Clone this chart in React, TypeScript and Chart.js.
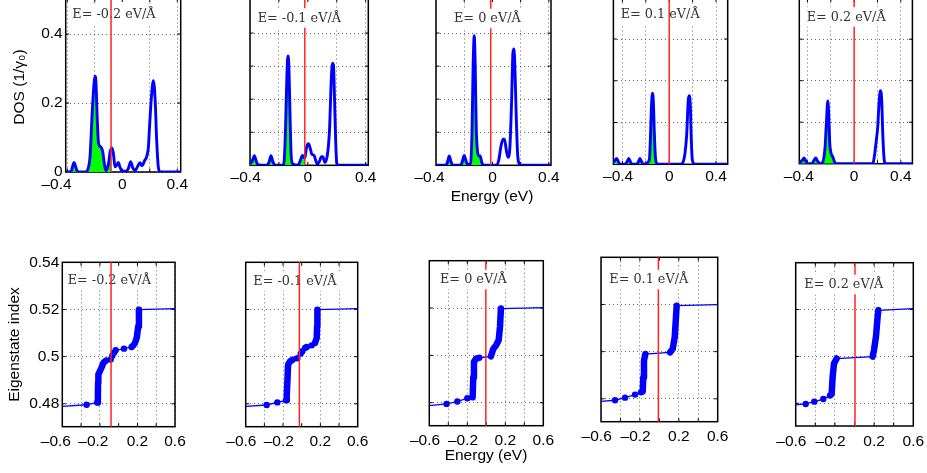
import React, { useEffect, useRef } from "react";
import { Chart, registerables } from "chart.js";

Chart.register(...registerables);

// ---------------- data ----------------
const fieldLabels = ["E= -0.2 eV/Å", "E= -0.1 eV/Å", "E= 0 eV/Å", "E= 0.1 eV/Å", "E= 0.2 eV/Å"];
const fermiTop = [-0.082, -0.021, -0.012, 0, 0];
const fermiBottom = [-0.081, -0.025, -0.005, -0.01, 0.005];

// DOS (top row): energy (eV) and DOS (1/gamma0)
const dosEnergyM02 = [-0.412, -0.372, -0.362, -0.351, -0.34, -0.328, -0.3, -0.262, -0.254, -0.235, -0.218, -0.205, -0.199, -0.192, -0.183, -0.173, -0.155, -0.143, -0.131, -0.119, -0.1, -0.088, -0.082, -0.075, -0.065, -0.053, -0.04, -0.029, -0.018, -0.005, 0.027, 0.045, 0.061, 0.077, 0.093, 0.11, 0.129, 0.14, 0.148, 0.162, 0.177, 0.19, 0.198, 0.212, 0.226, 0.239, 0.25, 0.262, 0.275, 0.425];
const dosValueM02 = [0, 0.002, 0.016, 0.028, 0.016, 0.002, 0, 0, 0.004, 0.044, 0.18, 0.26, 0.278, 0.262, 0.16, 0.083, 0.072, 0.059, 0.025, 0.004, 0.025, 0.06, 0.066, 0.07, 0.054, 0.015, 0.02, 0.028, 0.015, 0.004, 0.002, 0.011, 0.03, 0.011, 0.004, 0.015, 0.027, 0.019, 0.02, 0.033, 0.044, 0.073, 0.13, 0.218, 0.265, 0.209, 0.093, 0.015, 0, 0];

const dosEnergyM01 = [-0.398, -0.38, -0.37, -0.358, -0.345, -0.283, -0.267, -0.255, -0.242, -0.225, -0.172, -0.163, -0.154, -0.145, -0.138, -0.131, -0.124, -0.117, -0.108, -0.07, -0.055, -0.037, -0.021, -0.01, 0.004, 0.016, 0.027, 0.043, 0.055, 0.066, 0.08, 0.094, 0.103, 0.119, 0.133, 0.142, 0.151, 0.16, 0.17, 0.177, 0.184, 0.193, 0.2, 0.21, 0.418];
const dosValueM01 = [0.004, 0.018, 0.029, 0.014, 0.002, 0, 0.011, 0.029, 0.011, 0, 0, 0.016, 0.117, 0.269, 0.331, 0.299, 0.168, 0.046, 0.006, 0, 0.011, 0.03, 0.022, 0.052, 0.065, 0.052, 0.034, 0.03, 0.014, 0.004, 0.011, 0.026, 0.026, 0.009, 0.026, 0.057, 0.117, 0.238, 0.309, 0.304, 0.208, 0.067, 0.006, 0, 0];

const dosEnergyZ0 = [-0.4, -0.33, -0.318, -0.306, -0.294, -0.278, -0.225, -0.212, -0.2, -0.188, -0.175, -0.155, -0.145, -0.137, -0.129, -0.122, -0.115, -0.108, -0.097, -0.087, -0.075, -0.06, -0.012, 0.03, 0.045, 0.06, 0.075, 0.085, 0.1, 0.112, 0.124, 0.136, 0.145, 0.152, 0.159, 0.168, 0.178, 0.19, 0.2, 0.415];
const dosValueZ0 = [0, 0, 0.011, 0.028, 0.011, 0, 0, 0.014, 0.03, 0.014, 0.002, 0.006, 0.097, 0.299, 0.392, 0.299, 0.117, 0.052, 0.028, 0.028, 0.008, 0, 0, 0, 0.016, 0.057, 0.079, 0.079, 0.041, 0.024, 0.057, 0.198, 0.339, 0.352, 0.299, 0.158, 0.036, 0.004, 0, 0];

const dosEnergyP01 = [-0.477, -0.462, -0.449, -0.435, -0.421, -0.378, -0.36, -0.346, -0.332, -0.315, -0.28, -0.263, -0.25, -0.236, -0.214, -0.17, -0.161, -0.153, -0.144, -0.136, -0.127, -0.118, -0.105, -0.09, 0, 0.1, 0.12, 0.135, 0.15, 0.163, 0.172, 0.181, 0.189, 0.198, 0.21, 0.23, 0.5];
const dosValueP01 = [0.004, 0.01, 0.014, 0.006, 0, 0, 0.006, 0.014, 0.006, 0, 0, 0.006, 0.014, 0.006, 0, 0.01, 0.058, 0.13, 0.17, 0.154, 0.074, 0.018, 0.002, 0, 0, 0, 0.006, 0.026, 0.074, 0.154, 0.164, 0.138, 0.058, 0.01, 0.002, 0, 0];

const dosEnergyP02 = [-0.47, -0.442, -0.429, -0.415, -0.4, -0.363, -0.343, -0.329, -0.315, -0.29, -0.269, -0.258, -0.249, -0.238, -0.226, -0.218, -0.209, -0.198, -0.184, -0.17, -0.158, 0, 0.16, 0.173, 0.19, 0.202, 0.213, 0.225, 0.236, 0.245, 0.256, 0.265, 0.5];
const dosValueP02 = [0.002, 0.009, 0.014, 0.007, 0, 0, 0.009, 0.014, 0.007, 0, 0.004, 0.017, 0.041, 0.097, 0.151, 0.121, 0.049, 0.025, 0.017, 0.006, 0, 0, 0, 0.017, 0.057, 0.089, 0.145, 0.176, 0.153, 0.073, 0.013, 0, 0];

// Eigenstate index (bottom row): index at E=-0.6 / 0.6, isolated states, dense bands
const idxEdgeM02 = [0.4789, 0.5204];
const dotEM02 = [-0.341, -0.227, -0.085, -0.068, -0.05, -0.032, 0.057, 0.138, 0.156];
const dotIdxM02 = [0.4796, 0.4806, 0.4988, 0.5004, 0.5016, 0.5027, 0.5034, 0.5041, 0.5048];
const bandAEM02 = [-0.224, -0.221, -0.219, -0.216, -0.2, -0.181, -0.16, -0.135];
const bandAIdxM02 = [0.4806, 0.484, 0.489, 0.4925, 0.4938, 0.4955, 0.4975, 0.4983];
const bandBEM02 = [0.174, 0.192, 0.209, 0.216];
const bandBIdxM02 = [0.5058, 0.5079, 0.5129, 0.5199];

const idxEdgeM01 = [0.4789, 0.5204];
const dotEM01 = [-0.375, -0.261, -0.046, -0.011, 0.007, 0.036, 0.054, 0.107];
const dotIdxM01 = [0.4795, 0.4806, 0.4993, 0.5013, 0.5023, 0.5037, 0.5041, 0.5048];
const bandAEM01 = [-0.168, -0.16, -0.154, -0.146, -0.125, -0.096];
const bandAIdxM01 = [0.4815, 0.484, 0.4888, 0.4966, 0.498, 0.4987];
const bandBEM01 = [0.143, 0.161, 0.165, 0.168];
const bandBIdxM01 = [0.5058, 0.5079, 0.513, 0.5199];

const idxEdgeZ0 = [0.4788, 0.5202];
const dotEZ0 = [-0.418, -0.305, -0.2];
const dotIdxZ0 = [0.4795, 0.4805, 0.4819];
const bandAEZ0 = [-0.144, -0.137, -0.13, -0.109, -0.074];
const bandAIdxZ0 = [0.4823, 0.4908, 0.4972, 0.4986, 0.499];
const bandBEZ0 = [0.049, 0.074, 0.102, 0.13, 0.144, 0.154];
const bandBIdxZ0 = [0.4996, 0.5028, 0.5042, 0.5064, 0.512, 0.5198];

const idxEdgeP01 = [0.4789, 0.5199];
const dotEP01 = [-0.456, -0.353, -0.25, -0.189];
const dotIdxP01 = [0.4794, 0.4805, 0.4818, 0.4828];
const bandAEP01 = [-0.171, -0.165, -0.158, -0.144];
const bandAIdxP01 = [0.4832, 0.4891, 0.4962, 0.499];
const bandBEP01 = [0.11, 0.137, 0.158, 0.171, 0.178];
const bandBIdxP01 = [0.4997, 0.5011, 0.5061, 0.5146, 0.5195];

const idxEdgeP02 = [0.4793, 0.5204];
const dotEP02 = [-0.498, -0.41, -0.318, -0.25];
const dotIdxP02 = [0.4797, 0.4807, 0.4818, 0.4833];
const bandAEP02 = [-0.233, -0.223, -0.209, -0.182];
const bandAIdxP02 = [0.484, 0.4913, 0.497, 0.4991];
const bandBEP02 = [0.185, 0.199, 0.219, 0.236, 0.243];
const bandBIdxP02 = [0.4999, 0.5027, 0.5084, 0.5169, 0.5197];

// ticks
const xTicksTop = [-0.4, -0.2, 0, 0.2, 0.4];
const xTickLabelsTop = ["–0.4", "", "0", "", "0.4"];
const yTicksDosLabeled = [0, 0.2, 0.4];
const yTickLabelsDos = ["0", "0.2", "0.4"];
const yTicksDosGrid = [0, 0.1, 0.2, 0.3, 0.4];
const xTicksBottom = [-0.6, -0.4, -0.2, 0, 0.2, 0.4, 0.6];
const xTickLabelsBottom = ["–0.6", "", "–0.2", "", "0.2", "", "0.6"];
const yTicksIndex = [0.48, 0.5, 0.52, 0.54];
const yTickLabelsIndex = ["0.48", "0.5", "0.52", "0.54"];

// ---------------- styling ----------------
const SANS = '"Liberation Sans", Arial, sans-serif';
const BLUE = "#0000ff";
const GRID = "rgba(40,40,40,0.7)";

const toPts = (xs: number[], ys: number[]) => xs.map((x, i) => ({ x, y: ys[i] }));

type Panel = {
  kind: "dos" | "idx";
  i: number;
  cl: number; ct: number; cw: number; ch: number;
  l: number; r: number; t: number; b: number;
  xMin: number; xMax: number; yMin: number; yMax: number;
  yLabels: boolean;
  negPad: number;
  lx: number; ly: number;
  redOver: boolean;
  xPad: number;
  titles: { text: string; x: number; y: number; rot?: boolean }[];
  E?: number[]; V?: number[];
  edge?: number[]; dotE?: number[]; dotI?: number[];
  aE?: number[]; aI?: number[]; bE?: number[]; bI?: number[];
};

const TOP_CT = -2, TOP_CH = 212;
const BOT_CT = 240, BOT_CH = 233;

const panels: Panel[] = [
  { kind: "dos", i: 0, cl: 0, ct: TOP_CT, cw: 205, ch: TOP_CH, l: 65.7, r: 180.7, t: -1.5, b: 172, xMin: -0.412, xMax: 0.425, yMin: 0, yMax: 0.503, yLabels: true, negPad: 5, lx: 72.3, ly: 18.3, redOver: true, xPad: 3.5, titles: [{ text: "DOS (1/γ₀)", x: 20, y: 87, rot: true }], E: dosEnergyM02, V: dosValueM02 },
  { kind: "dos", i: 1, cl: 205, ct: TOP_CT, cw: 190, ch: TOP_CH, l: 250, r: 368.3, t: -1.5, b: 165.3, xMin: -0.4, xMax: 0.418, yMin: 0, yMax: 0.5045, yLabels: false, negPad: 2, lx: 257.7, ly: 21.7, redOver: false, xPad: 3.5, titles: [], E: dosEnergyM01, V: dosValueM01 },
  { kind: "dos", i: 2, cl: 395, ct: TOP_CT, cw: 190, ch: TOP_CH, l: 436, r: 551, t: -1.5, b: 165.3, xMin: -0.4, xMax: 0.415, yMin: 0, yMax: 0.5045, yLabels: false, negPad: 3, lx: 454, ly: 22.3, redOver: false, xPad: 3.5, titles: [{ text: "Energy (eV)", x: 492, y: 201 }], E: dosEnergyZ0, V: dosValueZ0 },
  { kind: "dos", i: 3, cl: 585, ct: TOP_CT, cw: 180, ch: TOP_CH, l: 613.4, r: 727.7, t: -1.5, b: 164.3, xMin: -0.477, xMax: 0.5, yMin: 0, yMax: 0.397, yLabels: false, negPad: 2, lx: 620.7, ly: 18.3, redOver: true, xPad: 3.5, titles: [], E: dosEnergyP01, V: dosValueP01 },
  { kind: "dos", i: 4, cl: 765, ct: TOP_CT, cw: 162, ch: TOP_CH, l: 799.3, r: 912.4, t: -1.5, b: 163.7, xMin: -0.47, xMax: 0.499, yMin: 0, yMax: 0.398, yLabels: false, negPad: 4, lx: 806.7, ly: 20.7, redOver: false, xPad: 3.5, titles: [], E: dosEnergyP02, V: dosValueP02 },

  { kind: "idx", i: 0, cl: 0, ct: BOT_CT, cw: 195, ch: BOT_CH, l: 62.3, r: 175, t: 262.3, b: 426.7, xMin: -0.6, xMax: 0.6, yMin: 0.4703, yMax: 0.54, yLabels: true, negPad: 3, lx: 67.7, ly: 284.3, redOver: true, xPad: 6, titles: [{ text: "Eigenstate index", x: 15, y: 344.5, rot: true }], edge: idxEdgeM02, dotE: dotEM02, dotI: dotIdxM02, aE: bandAEM02, aI: bandAIdxM02, bE: bandBEM02, bI: bandBIdxM02 },
  { kind: "idx", i: 1, cl: 195, ct: BOT_CT, cw: 190, ch: BOT_CH, l: 245.7, r: 357.7, t: 262.3, b: 426.7, xMin: -0.6, xMax: 0.6, yMin: 0.4703, yMax: 0.54, yLabels: false, negPad: 2, lx: 253.3, ly: 284.7, redOver: true, xPad: 6, titles: [], edge: idxEdgeM01, dotE: dotEM01, dotI: dotIdxM01, aE: bandAEM01, aI: bandAIdxM01, bE: bandBEM01, bI: bandBIdxM01 },
  { kind: "idx", i: 2, cl: 385, ct: BOT_CT, cw: 185, ch: BOT_CH, l: 429.3, r: 543.3, t: 260.7, b: 425.7, xMin: -0.6, xMax: 0.6, yMin: 0.4703, yMax: 0.54, yLabels: false, negPad: 2, lx: 440, ly: 283.3, redOver: false, xPad: 6, titles: [{ text: "Energy (eV)", x: 486, y: 460.3 }], edge: idxEdgeZ0, dotE: dotEZ0, dotI: dotIdxZ0, aE: bandAEZ0, aI: bandAIdxZ0, bE: bandBEZ0, bI: bandBIdxZ0 },
  { kind: "idx", i: 3, cl: 570, ct: BOT_CT, cw: 185, ch: BOT_CH, l: 601, r: 717.7, t: 257.3, b: 421.7, xMin: -0.6, xMax: 0.6, yMin: 0.4703, yMax: 0.54, yLabels: false, negPad: 2, lx: 609.3, ly: 283.3, redOver: false, xPad: 6, titles: [], edge: idxEdgeP01, dotE: dotEP01, dotI: dotIdxP01, aE: bandAEP01, aI: bandAIdxP01, bE: bandBEP01, bI: bandBIdxP01 },
  { kind: "idx", i: 4, cl: 755, ct: BOT_CT, cw: 172, ch: BOT_CH, l: 795.7, r: 913.3, t: 262.7, b: 426, xMin: -0.6, xMax: 0.6, yMin: 0.4703, yMax: 0.54, yLabels: false, negPad: 2, lx: 804.3, ly: 288.3, redOver: false, xPad: 6, titles: [], edge: idxEdgeP02, dotE: dotEP02, dotI: dotIdxP02, aE: bandAEP02, aI: bandAIdxP02, bE: bandBEP02, bI: bandBIdxP02 },
];

function makeDeco(p: Panel) {
  const fermi = p.kind === "dos" ? fermiTop[p.i] : fermiBottom[p.i];
  const label = fieldLabels[p.i];
  return {
    id: "deco" + p.kind + p.i,
    beforeDatasetsDraw(chart: any) {
      const { ctx, chartArea: a } = chart;
      const xs = chart.scales.x, ys = chart.scales.y;
      ctx.save();
      ctx.strokeStyle = "#000";
      ctx.lineWidth = 1;
      ctx.beginPath();
      for (const t of xs.ticks) {
        const px = xs.getPixelForValue(t.value);
        if (px <= a.left + 1 || px >= a.right - 1) continue;
        ctx.moveTo(px, a.bottom); ctx.lineTo(px, a.bottom - 3.5);
        ctx.moveTo(px, a.top); ctx.lineTo(px, a.top + 3.5);
      }
      for (const t of ys.ticks) {
        const py = ys.getPixelForValue(t.value);
        if (py <= a.top + 1 || py >= a.bottom - 1) continue;
        ctx.moveTo(a.left, py); ctx.lineTo(a.left + 3.5, py);
        ctx.moveTo(a.right, py); ctx.lineTo(a.right - 3.5, py);
      }
      ctx.stroke();
      ctx.lineWidth = 1.5;
      ctx.strokeRect(a.left, a.top, a.right - a.left, a.bottom - a.top);
      ctx.restore();
    },
    afterDatasetsDraw(chart: any) {
      const { ctx, chartArea: a } = chart;
      const px = chart.scales.x.getPixelForValue(fermi);
      const red = () => {
        ctx.save();
        ctx.strokeStyle = "rgb(255,35,35)";
        ctx.lineWidth = 1.5;
        ctx.beginPath();
        ctx.moveTo(px, a.top);
        ctx.lineTo(px, a.bottom);
        ctx.stroke();
        ctx.restore();
      };
      if (!p.redOver) red();
      ctx.save();
      ctx.beginPath();
      ctx.rect(a.left + 1, a.top + 1, a.right - a.left - 2, a.bottom - a.top - 2);
      ctx.clip();
      ctx.font = '12.8px "DejaVu Serif", serif';
      const w = ctx.measureText(label).width;
      const lx = p.lx - p.cl, ly = p.ly - p.ct;
      ctx.fillStyle = "#fff";
      ctx.fillRect(lx - 4, ly - 13.5, w + 8, 19.5);
      ctx.fillStyle = "#333";
      ctx.textAlign = "left";
      ctx.textBaseline = "alphabetic";
      ctx.fillText(label, lx, ly);
      ctx.restore();
      if (p.redOver) red();
    },
    afterDraw(chart: any) {
      const { ctx } = chart;
      for (const t of p.titles) {
        ctx.save();
        ctx.font = "15.5px " + SANS;
        ctx.fillStyle = "#000";
        ctx.textAlign = "center";
        const x = t.x - p.cl, y = t.y - p.ct;
        if (t.rot) {
          ctx.translate(x, y);
          ctx.rotate(-Math.PI / 2);
          ctx.textBaseline = "middle";
          ctx.fillText(t.text, 0, 0);
        } else {
          ctx.textBaseline = "alphabetic";
          ctx.fillText(t.text, x, y);
        }
        ctx.restore();
      }
    },
  };
}

function buildConfig(p: Panel): any {
  const yW = p.l - p.cl;
  const xH = p.ct + p.ch - p.b;
  const padTop = p.t - p.ct;
  const padRight = p.cl + p.cw - p.r;
  const fermi = p.kind === "dos" ? fermiTop[p.i] : fermiBottom[p.i];

  const xTicks = p.kind === "dos" ? xTicksTop : xTicksBottom;
  const xLabels = (p.kind === "dos" ? xTickLabelsTop : xTickLabelsBottom).map((s) =>
    s.startsWith("–") ? s + " ".repeat(p.negPad) : s
  );
  let yTicks: number[];
  let yLabels: string[];
  if (p.kind === "dos") {
    if (p.yLabels) { yTicks = yTicksDosLabeled; yLabels = yTickLabelsDos; }
    else { yTicks = yTicksDosGrid.filter((v) => v <= p.yMax); yLabels = yTicks.map(() => ""); }
  } else {
    yTicks = yTicksIndex;
    yLabels = p.yLabels ? yTickLabelsIndex : yTicksIndex.map(() => "");
  }

  let datasets: any[];
  if (p.kind === "dos") {
    const pts = toPts(p.E!, p.V!);
    datasets = [
      { data: pts, borderColor: BLUE, borderWidth: 2.9, borderJoinStyle: "round", pointRadius: 0, cubicInterpolationMode: "monotone", fill: false, order: 0 },
      { data: pts.filter((q) => q.x <= fermi + 1e-9), borderColor: "rgba(0,0,0,0)", borderWidth: 0, backgroundColor: "#00ff00", fill: "origin", pointRadius: 0, cubicInterpolationMode: "monotone", order: 1 },
    ];
  } else {
    const dots = toPts(p.dotE!, p.dotI!);
    const bandA = toPts(p.aE!, p.aI!);
    const bandB = toPts(p.bE!, p.bI!);
    const path = [{ x: p.xMin, y: p.edge![0] }, ...[...dots, ...bandA, ...bandB].sort((u, v) => u.x - v.x), { x: p.xMax, y: p.edge![1] }];
    const bands = [...bandA, { x: bandA[bandA.length - 1].x, y: null as any }, ...bandB];
    datasets = [
      { data: dots, showLine: false, pointRadius: 3.2, pointBackgroundColor: BLUE, pointBorderWidth: 0, borderColor: BLUE, order: 0 },
      { data: bands, borderColor: BLUE, borderWidth: 6.5, borderCapStyle: "round", borderJoinStyle: "round", pointRadius: 0, fill: false, spanGaps: false, order: 1 },
      { data: path, borderColor: BLUE, borderWidth: 1.3, pointRadius: 0, fill: false, order: 2 },
    ];
  }

  const tickFont = { family: SANS, size: 15.5 };
  const zeroPad = (s: any) => { s.paddingLeft = 0; s.paddingRight = 0; s.paddingTop = 0; s.paddingBottom = 0; };

  return {
    type: "line",
    data: { datasets },
    options: {
      animation: false,
      responsive: false,
      maintainAspectRatio: false,
      events: [],
      layout: { padding: { top: padTop, right: padRight, left: 0, bottom: 0 }, autoPadding: false },
      plugins: { legend: { display: false }, tooltip: { enabled: false }, title: { display: false } },
      scales: {
        x: {
          type: "linear",
          min: p.xMin,
          max: p.xMax,
          afterBuildTicks: (s: any) => { s.ticks = xTicks.map((v) => ({ value: v })); },
          afterFit: (s: any) => { s.height = xH; zeroPad(s); },
          ticks: { autoSkip: false, maxRotation: 0, minRotation: 0, padding: p.xPad, color: "#000", font: tickFont, callback: (_v: any, i: number) => xLabels[i] },
          grid: { color: (c: any) => (c.tick && Math.abs(c.tick.value) < 1e-9 ? "rgba(0,0,0,0)" : GRID), lineWidth: 1, drawTicks: false },
          border: { display: false, dash: [1, 3] },
        },
        y: {
          type: "linear",
          min: p.yMin,
          max: p.yMax,
          afterBuildTicks: (s: any) => { s.ticks = yTicks.map((v) => ({ value: v })); },
          afterFit: (s: any) => { s.width = yW; zeroPad(s); },
          ticks: { display: p.yLabels, autoSkip: false, padding: 3, color: "#000", font: tickFont, callback: (_v: any, i: number) => yLabels[i] },
          grid: { color: GRID, lineWidth: 1, drawTicks: false },
          border: { display: false, dash: [1, 3] },
        },
      },
    },
    plugins: [makeDeco(p)],
  };
}

function PanelChart({ p }: { p: Panel }) {
  const ref = useRef<HTMLCanvasElement | null>(null);
  useEffect(() => {
    if (!ref.current) return;
    const chart = new Chart(ref.current, buildConfig(p));
    return () => chart.destroy();
  }, [p]);
  return (
    <canvas
      ref={ref}
      width={p.cw}
      height={p.ch}
      style={{ position: "absolute", left: p.cl, top: p.ct, width: p.cw, height: p.ch }}
    />
  );
}

export default function App() {
  return (
    <div style={{ position: "absolute", left: 0, top: 0, width: 927, height: 473, overflow: "hidden", background: "#fff" }}>
      {panels.map((p) => (
        <PanelChart key={p.kind + p.i} p={p} />
      ))}
    </div>
  );
}
